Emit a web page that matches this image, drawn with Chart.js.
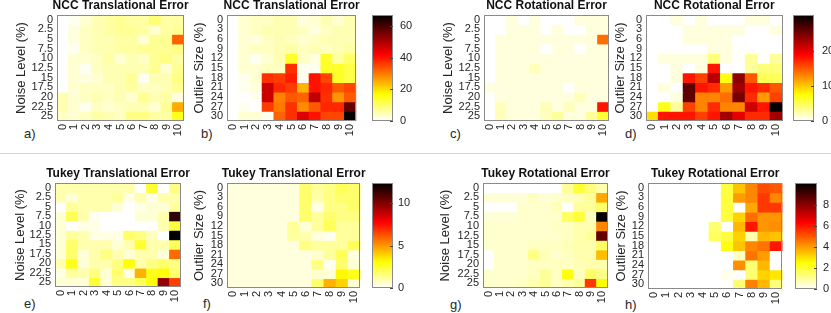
<!DOCTYPE html>
<html>
<head>
<meta charset="utf-8">
<script src="https://cdn.jsdelivr.net/npm/chart.js@4.4.1/dist/chart.umd.min.js"></script>
<style>
  body { margin: 0; background: #fff; width: 831px; height: 313px; position: relative; overflow: hidden;
         font-family: 'Liberation Sans', Arial, sans-serif; }
  canvas { position: absolute; }
  .tag { position: absolute; font-size: 13px; line-height: 15px; color: #262626; }
  #sep { position: absolute; left: 0; top: 153px; width: 831px; height: 1px; background: #d4d4d4; }
</style>
</head>
<body>
<div id="sep"></div>
<div class="tag" style="left:24px;top:126px">a)</div>
<div class="tag" style="left:201px;top:126px">b)</div>
<div class="tag" style="left:450px;top:126px">c)</div>
<div class="tag" style="left:625px;top:126px">d)</div>
<div class="tag" style="left:24px;top:296px">e)</div>
<div class="tag" style="left:203px;top:296px">f)</div>
<div class="tag" style="left:450px;top:297px">g)</div>
<div class="tag" style="left:625px;top:297px">h)</div>
<canvas id="a"></canvas><canvas id="b"></canvas><canvas id="bcb"></canvas>
<canvas id="c"></canvas><canvas id="d"></canvas><canvas id="dcb"></canvas>
<canvas id="e"></canvas><canvas id="f"></canvas><canvas id="fcb"></canvas>
<canvas id="g"></canvas><canvas id="h"></canvas><canvas id="hcb"></canvas>
<script>
// axes categories
const xLabels = ['0', '1', '2', '3', '4', '5', '6', '7', '8', '9', '10'];
const noiseLabels = ['0', '2.5', '5', '7.5', '10', '12.5', '15', '17.5', '20', '22.5', '25'];
const outlierLabels = ['0', '3', '6', '9', '12', '15', '18', '21', '24', '27', '30'];

// colour limits (shared by each pair of panels) and colorbar ticks
const nccTransMax = 66.8, nccRotMax = 30.2, tukeyTransMax = 12.4, tukeyRotMax = 10.1;
const nccTransTicks = [0, 20, 40, 60];
const nccRotTicks = [0, 10, 20];
const tukeyTransTicks = [0, 5, 10];
const tukeyRotTicks = [0, 2, 4, 6, 8];

// a) NCC translational error, rows = noise level
const nccTransNoise = [
  [0, 1, 3, 5, 6, 7, 6, 6, 9, 6, 6],
  [0, 2, 4, 5, 6, 7, 7, 6, 3, 6, 7],
  [0, 2, 4, 5, 5, 6, 6, 3, 7, 7, 32],
  [0, 1, 4, 5, 5, 6, 6, 7, 7, 7, 8],
  [0, 3, 3, 4, 6, 3, 5, 4, 7, 8, 6],
  [0, 3, 1, 4, 5, 5, 5, 5, 7, 3, 7],
  [0, 3, 2, 3, 5, 5, 7, 1, 5, 5, 8],
  [0, 3, 4, 4, 4, 5, 6, 4, 4, 5, 7],
  [5, 3, 4, 5, 4, 5, 3, 7, 5, 6, 2],
  [5, 3, 1, 4, 3, 4, 5, 5, 3, 7, 25],
  [4, 3, 4, 6, 5, 4, 8, 8, 6, 6, 15]
];
// b) NCC translational error, rows = outlier size
const nccTransOutlier = [
  [0, 3, 4, 4, 5, 5, 2, 3, 5, 3, 5],
  [0, 3, 4, 5, 5, 5, 4, 2, 4, 5, 5],
  [0, 3, 2, 4, 5, 4, 3, 4, 5, 5, 5],
  [0, 3, 4, 4, 5, 6, 4, 5, 4, 5, 6],
  [0, 3, 1, 3, 5, 14, 4, 2, 14, 6, 10],
  [0, 3, 3, 4, 4, 37, 1, 1, 14, 14, 12],
  [0, 1, 3, 37, 36, 39, 1, 40, 35, 14, 12],
  [0, 1, 2, 47, 38, 36, 24, 40, 38, 33, 35],
  [0, 0, 1, 47, 29, 33, 32, 48, 37, 27, 33],
  [0, 1, 0, 36, 30, 37, 28, 33, 38, 38, 57],
  [0, 3, 3, 1, 32, 37, 45, 40, 35, 35, 66]
];
// c) NCC rotational error, rows = noise level
const nccRotNoise = [
  [0, 0, 1, 0, 1, 0, 0, 0, 1, 1, 1],
  [0, 0, 1, 1, 1, 0, 1, 0, 0, 1, 1],
  [0, 1, 1, 1, 1, 1, 1, 1, 1, 1, 14],
  [0, 1, 1, 1, 1, 0, 1, 1, 0, 1, 1],
  [0, 1, 1, 1, 1, 1, 1, 1, 1, 1, 1],
  [0, 1, 1, 1, 2, 1, 1, 1, 1, 1, 1],
  [0, 1, 1, 1, 1, 1, 1, 1, 1, 1, 1],
  [1, 1, 1, 1, 1, 1, 1, 0, 1, 1, 1],
  [0, 1, 1, 1, 1, 1, 1, 1, 2, 1, 1],
  [0, 2, 1, 1, 1, 2, 1, 2, 1, 1, 18],
  [0, 2, 1, 1, 1, 2, 3, 1, 1, 3, 6]
];
// d) NCC rotational error, rows = outlier size
const nccRotOutlier = [
  [0, 0, 1, 0, 1, 0, 0, 0, 1, 1, 0],
  [0, 0, 0, 1, 1, 1, 1, 1, 0, 0, 1],
  [0, 0, 0, 1, 1, 1, 1, 0, 0, 0, 0],
  [0, 0, 0, 0, 0, 1, 1, 0, 0, 0, 0],
  [0, 1, 1, 1, 1, 4, 1, 0, 3, 0, 3],
  [0, 0, 1, 0, 1, 18, 0, 0, 3, 4, 4],
  [0, 0, 1, 18, 16, 22, 7, 24, 15, 5, 5],
  [0, 1, 0, 26, 18, 17, 12, 23, 18, 17, 15],
  [0, 0, 1, 26, 13, 13, 14, 25, 17, 12, 16],
  [0, 7, 3, 16, 13, 17, 13, 13, 21, 18, 30],
  [9, 18, 18, 18, 16, 18, 23, 20, 17, 17, 23]
];
// e) Tukey translational error, rows = noise level
const tukeyTransNoise = [
  [1, 1, 1, 1, 1, 1, 1, 0, 2.5, 0, 1.5],
  [1, 0.5, 1, 1, 1, 1.2, 0.3, 1, 0.3, 1, 1],
  [0, 1.2, 1, 1, 1, 0.5, 0, 0.3, 0.5, 0.5, 1.2],
  [0.5, 2, 1, 0.2, 0, 0, 0, 0.5, 0.5, 1, 11.5],
  [0.5, 0, 0.3, 0.3, 0, 0, 0, 0, 0, 1, 2.3],
  [0.5, 1.2, 1, 0.3, 0.3, 0.3, 1.8, 1.5, 0.8, 0, 12.4],
  [0.5, 1.8, 1, 1, 1, 0.5, 1, 2.5, 1, 1, 2],
  [0.5, 1.8, 0.5, 1, 1.5, 1, 0.5, 1, 1, 0.5, 5.8],
  [1, 2.8, 0.5, 1, 1, 1.5, 3, 1, 1.5, 1.8, 1.5],
  [0.3, 1.2, 1, 1.5, 0.5, 1.8, 0.3, 4.5, 2.8, 3, 1.8],
  [0.5, 0.5, 0.5, 2.5, 0.5, 1.5, 1.5, 2, 3, 9.7, 6.6]
];
// f) Tukey translational error, rows = outlier size
const tukeyTransOutlier = [
  [0.4, 0.4, 0.4, 0.4, 0.4, 0.4, 1.8, 1.2, 1.5, 2, 1.8],
  [0.4, 0.4, 0.4, 0.4, 0.4, 0.4, 1.8, 1, 1.5, 1.8, 1.8],
  [0.4, 0.4, 0.4, 0.4, 0.4, 0.4, 1.8, 0.3, 1.5, 1.5, 1.8],
  [0.4, 0.4, 0.4, 0.4, 0.4, 0.4, 1.8, 1.2, 1.8, 1.5, 1.5],
  [0.4, 0.4, 0.4, 0.4, 0.4, 1.2, 0.5, 1.2, 2, 1.2, 1.2],
  [0.4, 0.4, 0.4, 0.4, 0.4, 1.2, 1, 0.4, 0.2, 1.2, 1.2],
  [0.4, 0.4, 0.4, 0.4, 0.4, 0.4, 1.5, 1.2, 1.2, 1.2, 2],
  [0.4, 0.4, 0.4, 0.4, 0.4, 0.4, 0.4, 0.6, 1.2, 2, 0.4],
  [0.4, 0.4, 0.4, 0.4, 0.4, 0.4, 0.4, 1.5, 0.2, 1.8, 0.5],
  [0.4, 0.4, 0.4, 0.4, 0.4, 0.4, 0.4, 0.6, 0.5, 3.2, 2.8],
  [0.4, 0.4, 0.4, 0.4, 0.4, 0.4, 0.4, 1.8, 4.5, 3.9, 0.5]
];
// g) Tukey rotational error, rows = noise level
const tukeyRotNoise = [
  [0, 0, 0, 0, 0, 0, 0, 1, 2, 1.3, 0.8],
  [0.4, 0.4, 0.4, 0.4, 0.6, 0.4, 0.5, 0.6, 0.7, 1, 3.8],
  [0, 0, 0, 0.5, 0.5, 0.5, 0.7, 0, 1, 1, 1.5],
  [0.4, 0.4, 0.4, 0.5, 0.5, 0.5, 0.5, 1.6, 2, 0.6, 10],
  [0.5, 0.5, 0.5, 0.5, 0.5, 0.5, 0.6, 0.6, 0.8, 0.8, 4.3],
  [0.5, 0.5, 0.5, 0.5, 0.5, 0.5, 0.5, 0.6, 0.8, 1, 8.6],
  [0.5, 0.5, 0.5, 0.5, 0.6, 0.6, 0.6, 0.7, 0.8, 0.8, 1.5],
  [0, 0.5, 0.5, 0.5, 1.2, 0.7, 0.5, 0.6, 0.8, 0.8, 3.5],
  [0, 0.5, 0.5, 0.5, 0.6, 0.6, 0.6, 0.6, 0.7, 0.8, 0.8],
  [0.5, 0.5, 0.5, 0.5, 0.6, 1, 0.6, 2.4, 0.6, 1.5, 1.2],
  [0.5, 0.5, 0.5, 0.6, 0.8, 1, 0.6, 0.8, 1, 5.5, 2.5]
];
// h) Tukey rotational error, rows = outlier size
const tukeyRotOutlier = [
  [0, 0, 0, 0, 0, 0, 1.9, 3.4, 4.3, 5.2, 5],
  [0, 0, 0, 0, 0, 0, 1.9, 4, 4.3, 5.5, 4.3],
  [0, 0, 0, 0, 0, 0, 1.9, 0, 3.8, 5.5, 5.5],
  [0, 0, 0, 0, 0, 0, 1.9, 3.2, 4.7, 4.1, 4.1],
  [0, 0, 0, 0, 0, 1.4, 0, 3.6, 6, 4.1, 4.2],
  [0, 0, 0, 0, 0, 1.6, 1.9, 3.2, 0.8, 3.6, 3.4],
  [0, 0, 0, 0, 0, 0, 2.4, 3.4, 4.3, 4.6, 6],
  [0, 0, 0, 0, 0, 0, 0, 0.6, 4.6, 4, 0],
  [0, 0, 0, 0, 0, 0, 0, 4.2, 1.4, 3.6, 0],
  [0, 0, 0, 0, 0, 0, 0.2, 0, 1.4, 3.2, 2.9],
  [0, 0, 0, 0, 0, 0, 0, 1.4, 4.4, 3.6, 1.3]
];

const FONT = "'Liberation Sans', Arial, sans-serif";
const TXT = '#262626';
Chart.defaults.font.family = FONT;

// flipped "hot" colormap: white -> yellow -> red -> black
function hotColor(v, max) {
  const s = Math.min(Math.max(v / max, 0), 1);
  const t = 1 - s;
  const r = Math.min(1, t / 0.375);
  const g = Math.min(1, Math.max(0, (t - 0.375) / 0.375));
  const b = Math.min(1, Math.max(0, (t - 0.75) / 0.25));
  return `rgb(${Math.round(r * 255)},${Math.round(g * 255)},${Math.round(b * 255)})`;
}

// grey frame round the plot area
const frame = {
  id: 'frame',
  afterDatasetsDraw(chart) {
    const a = chart.chartArea, ctx = chart.ctx;
    ctx.save();
    ctx.strokeStyle = '#8a8a8a';
    ctx.lineWidth = 1;
    ctx.strokeRect(Math.round(a.left) + 0.5, Math.round(a.top) + 0.5,
                   Math.round(a.right - a.left) - 1, Math.round(a.bottom - a.top) - 1);
    ctx.restore();
  }
};

// panel title centred over the plot area (the built-in one squeezes text to the box width)
const panelTitle = {
  id: 'panelTitle',
  afterDraw(chart, args, opts) {
    const a = chart.chartArea, ctx = chart.ctx;
    ctx.save();
    ctx.font = "bold 12px " + FONT;
    ctx.fillStyle = '#111';
    ctx.textAlign = 'center';
    ctx.textBaseline = 'middle';
    ctx.fillText(opts.text, (a.left + a.right) / 2, a.top - 9);
    ctx.restore();
  }
};

function place(cv, left, top, w, h) {
  cv.style.left = left + 'px';
  cv.style.top = top + 'px';
  cv.width = w;
  cv.height = h;
}

function heatmap(id, box, yLabels, grid, max, title, yTitle, gap) {
  const L = 57, T = 20, R = 10, B = 24;
  const cv = document.getElementById(id);
  place(cv, box.x - L, box.y - T, box.w + L + R, box.h + T + B);

  // one dataset per row, every cell a floating bar one unit tall
  const datasets = grid.map((row, r) => ({
    data: row.map(() => [r - 0.5, r + 0.5]),
    backgroundColor: row.map(v => hotColor(v, max)),
    grouped: false,
    barPercentage: 1,
    categoryPercentage: 1,
    borderWidth: 0,
    inflateAmount: 0.5
  }));

  new Chart(cv, {
    type: 'bar',
    data: { labels: xLabels, datasets: datasets },
    options: {
      responsive: false,
      animation: false,
      layout: { padding: { top: T, right: R } },
      plugins: {
        legend: { display: false },
        tooltip: { enabled: false },
        title: { display: false },
        panelTitle: { text: title }
      },
      scales: {
        x: {
          type: 'category', offset: true,
          grid: { display: false, drawTicks: false },
          border: { display: false },
          ticks: { font: { size: 11 }, color: TXT, minRotation: 90, maxRotation: 90, autoSkip: false, padding: 3 },
          afterFit: s => { s.height = B; }
        },
        y: {
          type: 'linear', reverse: true, min: -0.5, max: 10.5,
          grid: { display: false, drawTicks: false },
          border: { display: false },
          afterBuildTicks: s => { s.ticks = yLabels.map((_, i) => ({ value: i })); },
          ticks: { font: { size: 11 }, color: TXT, padding: 4, autoSkip: false, callback: v => yLabels[v] },
          title: { display: true, text: yTitle, color: TXT, font: { size: 13 }, padding: { top: L - gap - 7.8, bottom: 0 } },
          afterFit: s => { s.width = L; }
        }
      }
    },
    plugins: [frame, panelTitle]
  });
}

// small inner tick marks on the colorbar's right edge
const cbTicks = {
  id: 'cbTicks',
  afterDatasetsDraw(chart) {
    const a = chart.chartArea, ctx = chart.ctx, y = chart.scales.y;
    ctx.save();
    ctx.strokeStyle = '#444';
    ctx.lineWidth = 1;
    y.ticks.forEach(t => {
      const py = Math.round(y.getPixelForValue(t.value)) + 0.5;
      ctx.beginPath();
      ctx.moveTo(a.right - 3, py);
      ctx.lineTo(a.right, py);
      ctx.stroke();
    });
    ctx.restore();
  }
};

function colorbar(id, box, max, ticks, pad) {
  const T = 16, R = 30, B = 24;
  const cv = document.getElementById(id);
  place(cv, box.x, box.y - T, box.w + R, box.h + T + B);

  new Chart(cv, {
    type: 'bar',
    data: {
      labels: [''],
      datasets: [{
        data: [[0, max]],
        barPercentage: 1,
        categoryPercentage: 1,
        borderWidth: 0,
        backgroundColor: c => {
          const a = c.chart.chartArea;
          if (!a) return '#fff';
          const g = c.chart.ctx.createLinearGradient(0, a.bottom, 0, a.top);
          g.addColorStop(0, '#ffffff');
          g.addColorStop(0.25, '#ffff00');
          g.addColorStop(0.625, '#ff0000');
          g.addColorStop(1, '#000000');
          return g;
        }
      }]
    },
    options: {
      responsive: false,
      animation: false,
      layout: { padding: { top: T, bottom: B } },
      plugins: { legend: { display: false }, tooltip: { enabled: false } },
      scales: {
        x: { display: false },
        y: {
          position: 'right', min: 0, max: max,
          grid: { display: false, drawTicks: false },
          border: { display: false },
          afterBuildTicks: s => { s.ticks = ticks.map(v => ({ value: v })); },
          ticks: { font: { size: 11 }, color: TXT, padding: pad },
          afterFit: s => { s.width = R; }
        }
      }
    },
    plugins: [frame, cbTicks]
  });
}

heatmap('a', { x: 57, y: 15, w: 128, h: 106 }, noiseLabels, nccTransNoise, nccTransMax, 'NCC Translational Error', 'Noise Level (%)', 36);
heatmap('b', { x: 227, y: 15, w: 130, h: 106 }, outlierLabels, nccTransOutlier, nccTransMax, 'NCC Translational Error', 'Outlier Size (%)', 28);
colorbar('bcb', { x: 372, y: 15, w: 21, h: 106 }, nccTransMax, nccTransTicks, 7);

heatmap('c', { x: 484, y: 15, w: 126, h: 106 }, noiseLabels, nccRotNoise, nccRotMax, 'NCC Rotational Error', 'Noise Level (%)', 36);
heatmap('d', { x: 646, y: 15, w: 137, h: 106 }, outlierLabels, nccRotOutlier, nccRotMax, 'NCC Rotational Error', 'Outlier Size (%)', 26);
colorbar('dcb', { x: 793, y: 15, w: 21, h: 106 }, nccRotMax, nccRotTicks, 8);

heatmap('e', { x: 55, y: 183, w: 127, h: 104 }, noiseLabels, tukeyTransNoise, tukeyTransMax, 'Tukey Translational Error', 'Noise Level (%)', 35);
heatmap('f', { x: 227, y: 183, w: 134, h: 105 }, outlierLabels, tukeyTransOutlier, tukeyTransMax, 'Tukey Translational Error', 'Outlier Size (%)', 28);
colorbar('fcb', { x: 372, y: 183, w: 21, h: 105 }, tukeyTransMax, tukeyTransTicks, 5);

heatmap('g', { x: 483, y: 183, w: 126, h: 105 }, noiseLabels, tukeyRotNoise, tukeyRotMax, 'Tukey Rotational Error', 'Noise Level (%)', 38);
heatmap('h', { x: 648, y: 183, w: 135, h: 106 }, outlierLabels, tukeyRotOutlier, tukeyRotMax, 'Tukey Rotational Error', 'Outlier Size (%)', 27);
colorbar('hcb', { x: 795, y: 183, w: 22, h: 106 }, tukeyRotMax, tukeyRotTicks, 6);
</script>
</body>
</html>
